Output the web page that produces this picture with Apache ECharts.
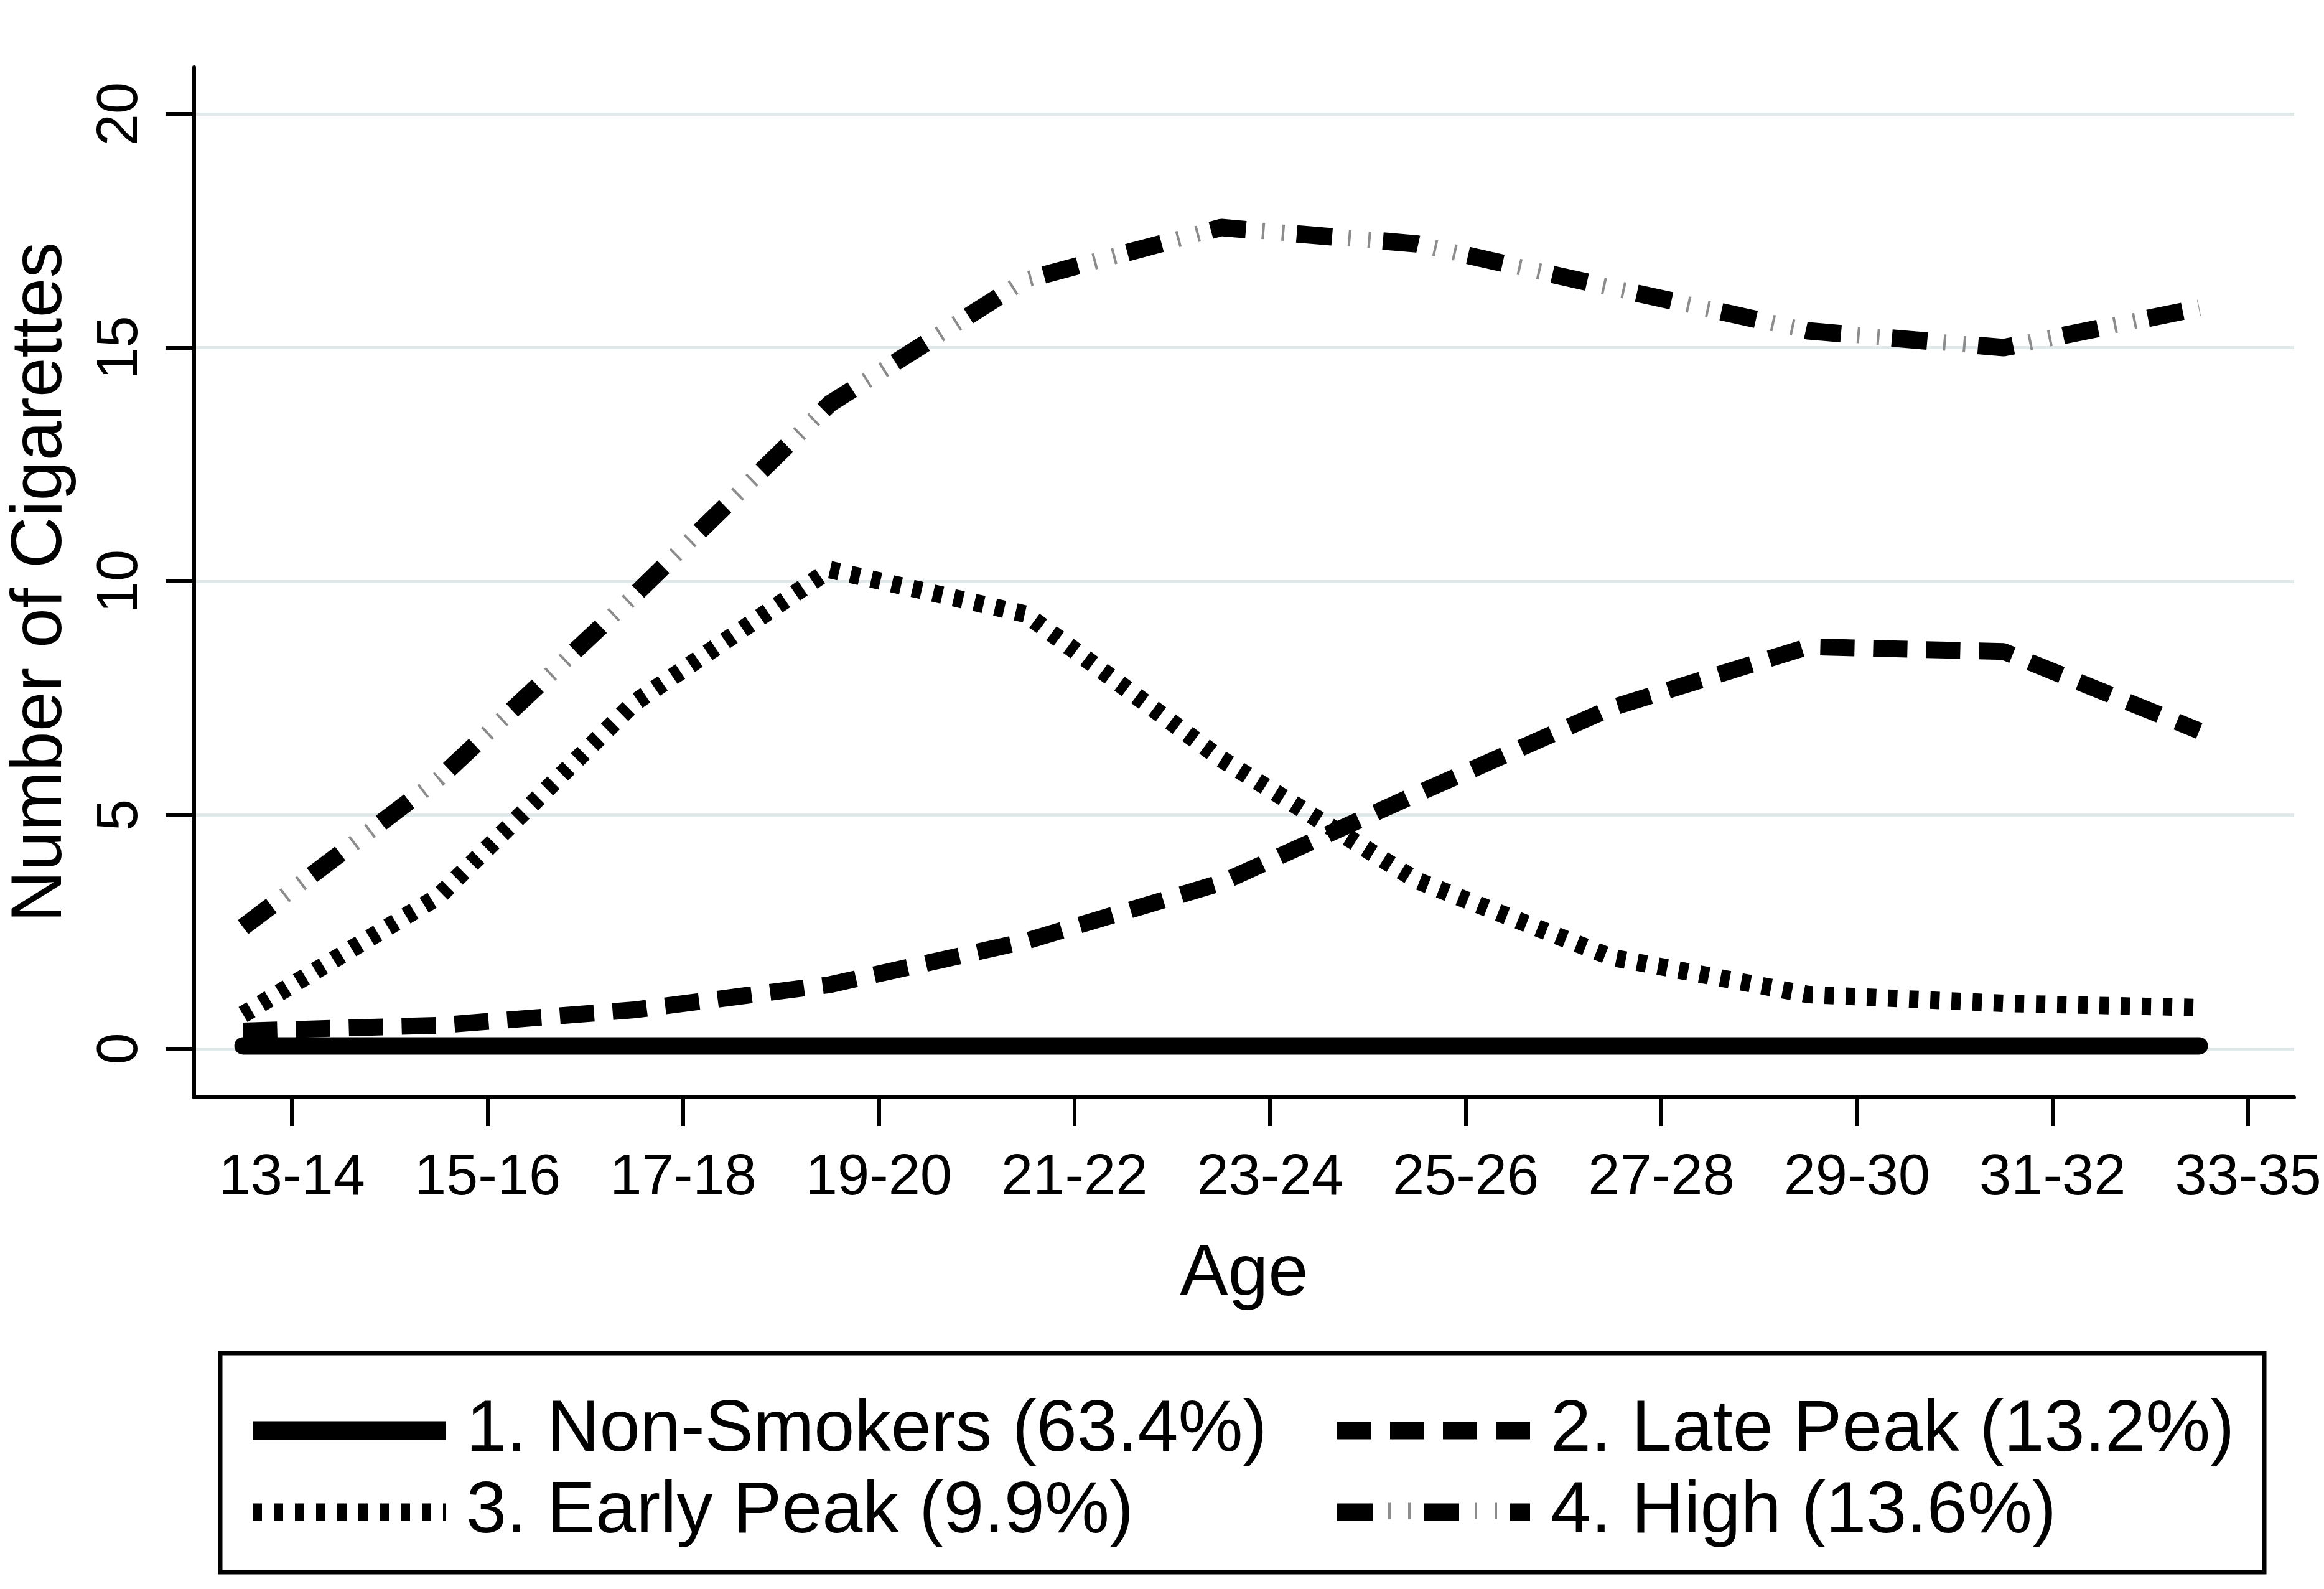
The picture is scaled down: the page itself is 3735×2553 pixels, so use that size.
<!DOCTYPE html>
<html>
<head>
<meta charset="utf-8">
<script src="https://cdn.jsdelivr.net/npm/echarts@6/dist/echarts.min.js"></script>
<style>
html,body{margin:0;padding:0;background:#ffffff;}
#chart{width:3735px;height:2553px;}
</style>
</head>
<body>
<div id="chart"></div>
<script>
// ---------- data ----------
const ages = [13, 15, 17, 19, 21, 23, 25, 27, 29, 31, 33];
const ageTickLabels = ['13-14', '15-16', '17-18', '19-20', '21-22', '23-24', '25-26', '27-28', '29-30', '31-32', '33-35'];
const yTickValues = [0, 5, 10, 15, 20];
const seriesNames = ['1. Non-Smokers (63.4%)', '2. Late Peak (13.2%)', '3. Early Peak (9.9%)', '4. High (13.6%)'];
const nonSmokers = [0.06, 0.06, 0.06, 0.06, 0.06, 0.06, 0.06, 0.06, 0.06, 0.06, 0.06];
const latePeak   = [0.38, 0.50, 0.83, 1.37, 2.30, 3.55, 5.45, 7.30, 8.60, 8.50, 6.80];
const earlyPeak  = [0.73, 3.26, 7.40, 10.25, 9.30, 6.20, 3.60, 1.95, 1.16, 0.97, 0.88];
const high       = [2.60, 5.77, 9.70, 13.80, 16.45, 17.57, 17.22, 16.28, 15.36, 15.00, 15.85];

// ---------- helpers ----------
const FONT = '"Liberation Sans", Arial, Helvetica, sans-serif';
const xTickValues = ages.map(a => a + 0.5);
const pairs = arr => ages.map((a, i) => [a, arr[i]]);
const highMarksName = seriesNames[3] + '\u200b';

const chart = echarts.init(document.getElementById('chart'), null, {renderer: 'canvas'});

const legendText = {
  fontSize: 117, fontFamily: FONT, color: '#000', lineHeight: 115, padding: [0, 0, 0, 28]
};
const legendCommon = {
  orient: 'vertical', itemWidth: 310, itemHeight: 30, itemGap: 14, padding: 0,
  selectedMode: false, textStyle: legendText,
  lineStyle: {width: 28}, itemStyle: {opacity: 0, borderWidth: 0}
};
const legendTop = 2240;

const option = {
  animation: false,
  backgroundColor: '#ffffff',
  textStyle: {fontFamily: FONT},
  grid: {left: 312, right: 48, top: 108, bottom: 790, containLabel: false},
  xAxis: {
    type: 'value', min: 12.5, max: 33.97,
    axisLine: {show: true, onZero: false, lineStyle: {color: '#000', width: 6}},
    axisTick: {show: true, customValues: xTickValues, length: 46, lineStyle: {color: '#000', width: 6}},
    axisLabel: {
      customValues: xTickValues, margin: 85, fontSize: 92, fontFamily: FONT, color: '#000',
      formatter: v => {
        const i = xTickValues.findIndex(t => Math.abs(t - v) < 1e-6);
        return i >= 0 ? ageTickLabels[i] : '';
      }
    },
    splitLine: {show: false},
    name: 'Age', nameLocation: 'middle', nameGap: 228,
    nameTextStyle: {fontSize: 116, fontFamily: FONT, color: '#000'}
  },
  yAxis: {
    type: 'value', min: -1.04, max: 21,
    axisLine: {show: true, onZero: false, lineStyle: {color: '#000', width: 6}},
    axisTick: {show: true, customValues: yTickValues, length: 46, lineStyle: {color: '#000', width: 6}},
    axisLabel: {customValues: yTickValues, rotate: 90, margin: 71, fontSize: 92, fontFamily: FONT, color: '#000'},
    splitLine: {show: true, lineStyle: {color: '#e2e9eb', width: 5}},
    name: 'Number of Cigarettes', nameLocation: 'middle', nameGap: 188, nameRotate: 90,
    nameTextStyle: {fontSize: 115, fontFamily: FONT, color: '#000'}
  },
  legend: [
    Object.assign({}, legendCommon, {
      left: 391, top: legendTop,
      data: [{name: seriesNames[0], lineStyle: {cap: 'butt', width: 30}}, {name: seriesNames[2]}]
    }),
    Object.assign({}, legendCommon, {
      left: 2135, top: legendTop,
      data: [{name: seriesNames[1]}, {name: seriesNames[3]}]
    }),
    Object.assign({}, legendCommon, {
      left: 2135, top: legendTop + 129,
      data: [{name: highMarksName}],
      lineStyle: {width: 26},
      textStyle: Object.assign({}, legendText, {color: 'rgba(0,0,0,0)'})
    })
  ],
  graphic: [{
    type: 'rect', z: 100,
    shape: {x: 354, y: 2174, width: 3285, height: 352},
    style: {fill: 'none', stroke: '#000', lineWidth: 7}
  }],
  series: [
    {
      name: seriesNames[0], type: 'line', data: pairs(nonSmokers), symbol: 'none', silent: true,
      lineStyle: {color: '#000', width: 28, cap: 'round', join: 'round'}, z: 2, emphasis: {disabled: true}
    },
    {
      name: seriesNames[1], type: 'line', data: pairs(latePeak), symbol: 'none', silent: true,
      lineStyle: {color: '#000', width: 27, type: [55, 30], cap: 'butt'}, z: 3, emphasis: {disabled: true}
    },
    {
      name: seriesNames[2], type: 'line', data: pairs(earlyPeak), symbol: 'none', silent: true,
      lineStyle: {color: '#000', width: 28, type: [15, 19], cap: 'butt'}, z: 4, emphasis: {disabled: true}
    },
    {
      name: highMarksName, type: 'line', data: pairs(high), symbol: 'none', silent: true,
      lineStyle: {color: '#8c8c8c', width: 26, type: [4, 28, 4, 103], dashOffset: 56, cap: 'butt'}, z: 5, emphasis: {disabled: true}
    },
    {
      name: seriesNames[3], type: 'line', data: pairs(high), symbol: 'none', silent: true,
      lineStyle: {color: '#000', width: 28, type: [57, 82], cap: 'butt'}, z: 6, emphasis: {disabled: true}
    }
  ]
};
chart.setOption(option);
</script>
</body>
</html>
